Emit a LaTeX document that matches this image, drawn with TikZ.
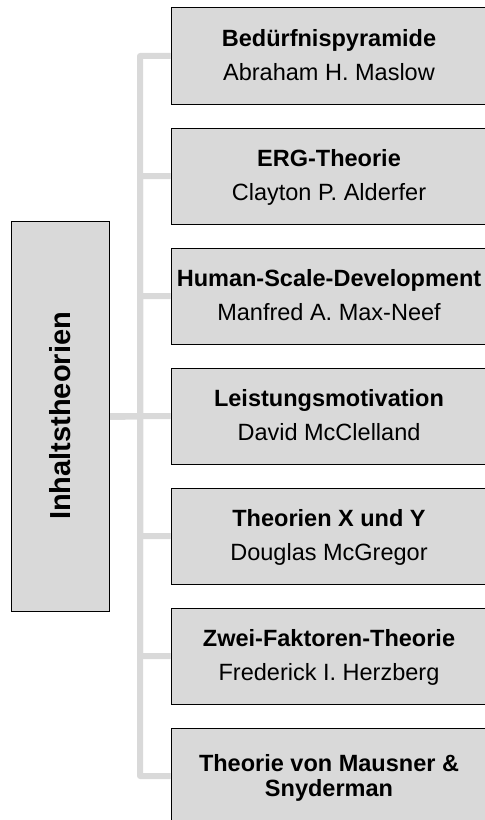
\documentclass[tikz,border=0pt]{standalone}
\usepackage{fontspec}
\setmainfont{Liberation Sans}
\usetikzlibrary{backgrounds}

\definecolor{boxgray}{HTML}{D9D9D9}
\definecolor{linkgray}{HTML}{D9D9D9}

\tikzset{
  theorybox/.style={draw=black, line width=1bp, fill=boxgray, rectangle,
    minimum width=316bp, minimum height=96bp, inner sep=0pt},
  rootbox/.style={draw=black, line width=1bp, fill=boxgray, rectangle,
    minimum width=97bp, minimum height=389bp, inner sep=0pt},
  titletext/.style={anchor=base, inner sep=0pt,
    font=\fontsize{23.6pt}{26pt}\selectfont\bfseries},
  authortext/.style={anchor=base, inner sep=0pt,
    font=\fontsize{23.6pt}{26pt}\selectfont},
  roottext/.style={anchor=base, rotate=90, inner sep=0pt,
    font=\fontsize{29.1pt}{32pt}\selectfont\bfseries},
  link/.style={draw=linkgray, line width=6bp, line join=round}
}

\begin{document}
\begin{tikzpicture}[x=1bp, y=-1bp]
  \useasboundingbox (0,0) rectangle (485,820);

  % root category
  \node[rootbox] (root) at (60.5,416.5) {};
  \node[roottext] (rootlabel) at (70.5,416) {Inhaltstheorien};

  % individual theories, one box every 120bp
  \node[theorybox] (b1) at (329,56)  {};
  \node[theorybox] (b2) at (329,176) {};
  \node[theorybox] (b3) at (329,296) {};
  \node[theorybox] (b4) at (329,416) {};
  \node[theorybox] (b5) at (329,536) {};
  \node[theorybox] (b6) at (329,656) {};
  \node[theorybox] (b7) at (329,776) {};

  \node[titletext]  (t1) at ([yshift=-38.7bp]b1.north) {Bedürfnispyramide};
  \node[authortext] (a1) at ([yshift=-73bp]b1.north)   {Abraham H. Maslow};
  \node[titletext]  (t2) at ([yshift=-38.7bp]b2.north) {ERG-Theorie};
  \node[authortext] (a2) at ([yshift=-73bp]b2.north)   {Clayton P. Alderfer};
  \node[titletext]  (t3) at ([yshift=-38.7bp]b3.north) {Human-Scale-Development};
  \node[authortext] (a3) at ([yshift=-73bp]b3.north)   {Manfred A. Max-Neef};
  \node[titletext]  (t4) at ([yshift=-38.7bp]b4.north) {Leistungsmotivation};
  \node[authortext] (a4) at ([yshift=-73bp]b4.north)   {David McClelland};
  \node[titletext]  (t5) at ([yshift=-38.7bp]b5.north) {Theorien X und Y};
  \node[authortext] (a5) at ([yshift=-73bp]b5.north)   {Douglas McGregor};
  \node[titletext]  (t6) at ([yshift=-38.7bp]b6.north) {Zwei-Faktoren-Theorie};
  \node[authortext] (a6) at ([yshift=-73bp]b6.north)   {Frederick I. Herzberg};
  \node[titletext]  (t7) at ([yshift=-43.7bp]b7.north) {Theorie von Mausner \&};
  \node[titletext]  (u7) at ([yshift=-69bp]b7.north)   {Snyderman};

  % tree connectors behind the boxes
  \coordinate (trunk) at (140,416);
  \begin{scope}[on background layer]
    \foreach \k in {1,...,7}{
      \draw[link] (root.east) -- (trunk) |- (b\k.west);
    }
  \end{scope}
\end{tikzpicture}
\end{document}
